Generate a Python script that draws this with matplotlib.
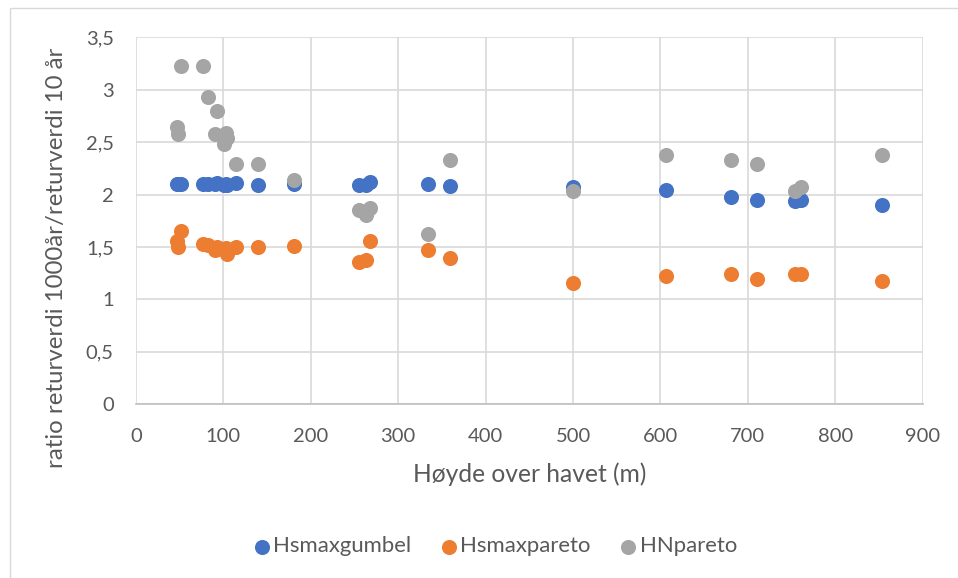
import matplotlib
matplotlib.use("Agg")
import matplotlib.pyplot as plt
from matplotlib.patches import Rectangle
from matplotlib.ticker import FuncFormatter, MultipleLocator

# Data (height above sea level in m, ratio return value 1000 yr / 10 yr)
hoyde = [47, 48, 52, 77, 82, 90, 93, 101, 103, 104, 114, 139, 181,
         255, 263, 268, 334, 359, 500, 606, 681, 711, 754, 761, 853]
hsmaxgumbel = [2.10, 2.10, 2.10, 2.10, 2.10, 2.10, 2.11, 2.09, 2.10, 2.09, 2.11, 2.09, 2.10,
               2.09, 2.09, 2.12, 2.10, 2.08, 2.07, 2.045, 1.975, 1.95, 1.935, 1.95, 1.90]
hsmaxpareto = [1.56, 1.50, 1.65, 1.53, 1.52, 1.47, 1.50, 1.47, 1.49, 1.43, 1.50, 1.50, 1.51,
               1.36, 1.38, 1.555, 1.47, 1.40, 1.155, 1.225, 1.245, 1.195, 1.245, 1.245, 1.18]
hnpareto = [2.64, 2.58, 3.23, 3.23, 2.93, 2.58, 2.80, 2.48, 2.59, 2.54, 2.29, 2.29, 2.14,
            1.85, 1.81, 1.875, 1.625, 2.33, 2.03, 2.38, 2.33, 2.29, 2.03, 2.07, 2.38]

series_names = ["Hsmaxgumbel", "Hsmaxpareto", "HNpareto"]
colors = ["#4472C4", "#ED7D31", "#A5A5A5"]
xlabel = "Høyde over havet (m)"
ylabel = "ratio returverdi 1000år/returverdi 10 år"

FONT = "Lato"
TXT = "#595959"
plt.rcParams["font.family"] = [FONT, "DejaVu Sans"]

W, H = 958, 578
fig = plt.figure(figsize=(W / 100, H / 100), dpi=100)
fig.patch.set_facecolor("white")
renderer = fig.canvas.get_renderer()


def fit_size(text, target_px, ref=20.0):
    t = fig.text(0, 0, text, fontsize=ref)
    w = t.get_window_extent(renderer).width
    t.remove()
    return ref * target_px / w


tick_fs = fit_size("400", 35)
xlab_fs = fit_size(xlabel, 234)
ylab_fs = fit_size(ylabel, 420)
leg_fs = fit_size("Hsmaxgumbel", 138)

# outer chart frame
fig.patches.append(Rectangle((10 / W, -0.1), 1.2, 1 - 8 / H + 0.1,
                             transform=fig.transFigure, fill=False,
                             edgecolor="#D9D9D9", linewidth=1.0))

ax = fig.add_axes([136 / W, 1 - 404.3 / H, (922.7 - 136) / W, (404.3 - 37.3) / H])

for ys, name, c in zip([hsmaxgumbel, hsmaxpareto, hnpareto], series_names, colors):
    ax.scatter(hoyde, ys, s=118, color=c, label=name, linewidths=0, zorder=3)

ax.set_xlim(0, 900)
ax.set_ylim(0, 3.5)
ax.xaxis.set_major_locator(MultipleLocator(100))
ax.yaxis.set_major_locator(MultipleLocator(0.5))
ax.yaxis.set_major_formatter(FuncFormatter(lambda v, p: ("%g" % v).replace(".", ",")))
ax.grid(True, color="#D9D9D9", linewidth=1.2, zorder=0)
ax.set_axisbelow(True)
for s in ["top", "right", "left"]:
    ax.spines[s].set_visible(False)
ax.spines["bottom"].set_color("#BFBFBF")
ax.spines["bottom"].set_linewidth(1.2)
ax.tick_params(axis="both", length=0, labelsize=tick_fs, labelcolor=TXT)
ax.tick_params(axis="x", pad=17)
ax.tick_params(axis="y", pad=16)

ax.set_xlabel(xlabel, fontsize=xlab_fs, color=TXT)
ax.xaxis.label.set_va("center")
ax.xaxis.set_label_coords(0.5, -0.19)
ax.set_ylabel(ylabel, fontsize=ylab_fs, color=TXT)
ax.yaxis.label.set_va("center")
ax.yaxis.set_label_coords((57 - 136) / 786.7, (404.3 - 258) / 367)

# legend geometry (pixels): marker centre -> text start 11.5, text end -> next marker centre 37.5
fspx = leg_fs * 100 / 72
hl = 0.7
htp = 11.5 / fspx - hl / 2
csp = 37.5 / fspx - hl / 2
leg = fig.legend(loc="center left", bbox_to_anchor=((261.5 - hl / 2 * fspx) / W, 1 - 546.5 / H),
                 ncol=3, frameon=False, fontsize=leg_fs, markerscale=1.0,
                 handletextpad=htp, columnspacing=csp, handlelength=hl,
                 borderpad=0, borderaxespad=0)
for t in leg.get_texts():
    t.set_color(TXT)

fig.savefig("out.png", dpi=100, facecolor="white")
